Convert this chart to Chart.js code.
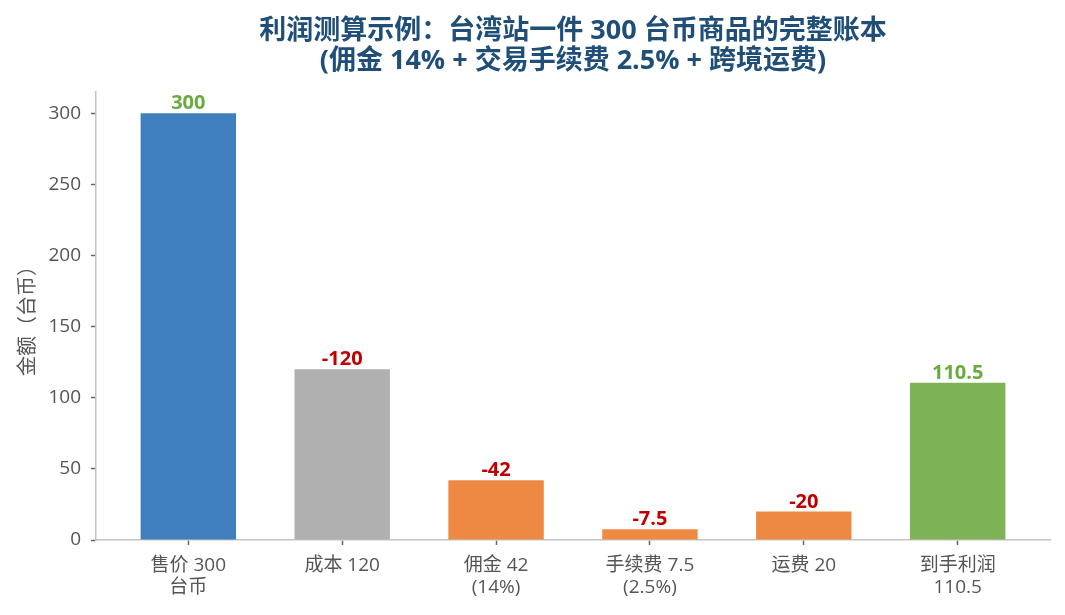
<!DOCTYPE html>
<html>
<head>
<meta charset="utf-8">
<script src="https://cdn.jsdelivr.net/npm/chart.js@4/dist/chart.umd.min.js"></script>
<style>
  html, body { margin: 0; padding: 0; background: #fff; }
  #wrap { width: 1065px; height: 615px; }
</style>
</head>
<body>
<div id="wrap"><canvas id="profitChart" width="1065" height="615"></canvas></div>
<script>
const FONT = "'Open Sans', 'Noto Sans CJK SC', sans-serif";

// 数据
const categories = [
  ["售价 300", "台币"],
  ["成本 120"],
  ["佣金 42", "(14%)"],
  ["手续费 7.5", "(2.5%)"],
  ["运费 20"],
  ["到手利润", "110.5"]
];
const amounts = [300, 120, 42, 7.5, 20, 110.5];
const valueLabels = ["300", "-120", "-42", "-7.5", "-20", "110.5"];
const yTicks = [0, 50, 100, 150, 200, 250, 300];
const titleLines = [
  "利润测算示例：台湾站一件 300 台币商品的完整账本",
  "(佣金 14% + 交易手续费 2.5% + 跨境运费)"
];

const barColors = ["#3f7fbd", "#b0b0b0", "#ee8944", "#ee8944", "#ee8944", "#7db356"];
const labelColors = ["#6aab3f", "#c00000", "#c00000", "#c00000", "#c00000", "#6aab3f"];

// 标题（居中于绘图区）
const titlePlugin = {
  id: "titleOverPlot",
  afterDraw(chart) {
    const c = chart.ctx;
    const area = chart.chartArea;
    const cx = (area.left + area.right) / 2;
    c.save();
    c.fillStyle = "#1f4e79";
    c.font = "bold 27px " + FONT;
    c.textAlign = "center";
    c.textBaseline = "middle";
    c.fillText(titleLines[0], cx, 31);
    c.fillText(titleLines[1], cx, 61);
    c.restore();
  }
};

// 柱顶数值
const valuePlugin = {
  id: "barValues",
  afterDatasetsDraw(chart) {
    const c = chart.ctx;
    const meta = chart.getDatasetMeta(0);
    c.save();
    c.font = "bold 20px " + FONT;
    c.textAlign = "center";
    c.textBaseline = "alphabetic";
    meta.data.forEach((bar, i) => {
      c.fillStyle = labelColors[i];
      c.fillText(valueLabels[i], bar.x, bar.y - 4);
    });
    c.restore();
  }
};

const ctx = document.getElementById("profitChart").getContext("2d");
const chart = new Chart(ctx, {
  type: "bar",
  data: {
    datasets: [
      {
        data: amounts.map((v, i) => ({ x: i, y: v })),
        backgroundColor: barColors,
        borderWidth: 0,
        barPercentage: 0.62,
        categoryPercentage: 1
      }
    ]
  },
  options: {
    responsive: false,
    animation: false,
    layout: { padding: { top: 92, right: 15, left: 0, bottom: 0 } },
    plugins: {
      legend: { display: false },
      tooltip: { enabled: false },
      title: { display: false }
    },
    scales: {
      x: {
        type: "linear",
        min: -0.6,
        max: 5.6,
        offset: false,
        afterBuildTicks: (scale) => {
          scale.ticks = categories.map((_, i) => ({ value: i }));
        },
        afterFit: (scale) => { scale.height = 75; },
        grid: { offset: false, drawOnChartArea: false, drawTicks: true, tickLength: 5, tickColor: "#666", tickWidth: 1.5 },
        border: { color: "#c4c4c4", width: 1.5 },
        ticks: {
          autoSkip: false,
          maxRotation: 0,
          padding: 10,
          color: "#555",
          font: { family: FONT, size: 19, lineHeight: 1.15 },
          callback: (v) => categories[v]
        }
      },
      y: {
        min: 0,
        max: 315,
        afterBuildTicks: (scale) => {
          scale.ticks = yTicks.map((v) => ({ value: v }));
        },
        afterFit: (scale) => { scale.width = 96; },
        grid: { drawOnChartArea: false, drawTicks: true, tickLength: 5, tickColor: "#666", tickWidth: 1.5 },
        border: { color: "#c4c4c4", width: 1.5 },
        ticks: {
          padding: 10,
          color: "#555",
          font: { family: FONT, size: 19 }
        },
        title: {
          display: true,
          text: "金额（台币）",
          color: "#555",
          padding: { top: 16, bottom: 0 },
          font: { family: FONT, size: 20 }
        }
      }
    }
  },
  plugins: [titlePlugin, valuePlugin]
});
</script>
</body>
</html>
